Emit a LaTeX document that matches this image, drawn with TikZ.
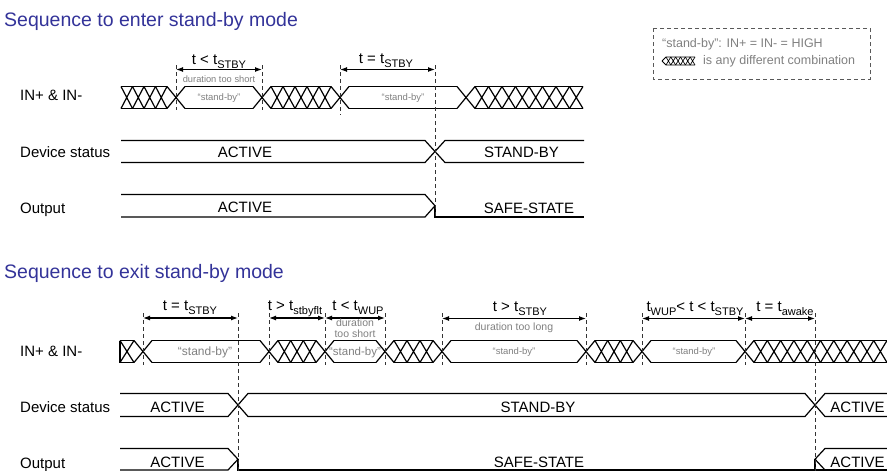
\documentclass[tikz,border=0pt]{standalone}
\usepackage{fontspec}
\setmainfont{Liberation Sans}
\usetikzlibrary{arrows,arrows.meta,positioning}
\definecolor{titleblue}{RGB}{51,51,153}
\definecolor{notegray}{RGB}{128,128,128}
\newcommand{\subtxt}[1]{\raisebox{-0.25em}{\fontsize{11}{11}\selectfont #1}}
% one bus row: top, bottom, list of a/b/wa/wb/hatched
\newcommand{\busrow}[3]{%
\foreach \a/\b/\wa/\wb/\k in {#3} {
\draw[sig] (\a+\wa,#1) -- (\b-\wb,#1) (\a+\wa,#2) -- (\b-\wb,#2);
\ifnum\k=1
\pgfmathtruncatemacro\nx{max(1,round((\b-\wb-\a-\wa)/13))}
\pgfmathsetmacro\px{(\b-\wb-\a-\wa)/\nx}
\foreach \i in {1,...,\nx} {
\draw[sig] (\a+\wa+\i*\px-\px,#1) -- (\a+\wa+\i*\px,#2) (\a+\wa+\i*\px-\px,#2) -- (\a+\wa+\i*\px,#1);
}
\fi
}}

\begin{document}
\begin{tikzpicture}[x=1pt,y=-1pt,>={Latex[length=7pt,width=5pt]},
  sig/.style={line width=1.2pt},
  guide/.style={line width=0.9pt,black!80,dash pattern=on 4pt off 3pt},
  durarrow/.style={<->,line width=1.2pt},
  title/.style={inner sep=0,anchor=base west,text=titleblue,font=\fontsize{19.5}{22}\selectfont},
  lbl/.style={inner sep=0,anchor=base,font=\fontsize{15}{18}\selectfont},
  rowname/.style={lbl,anchor=base west},
  quote/.style={inner sep=0,anchor=base,text=notegray,font=\fontsize{9.5}{11}\selectfont},
  note/.style={inner sep=0,anchor=base,text=notegray,font=\fontsize{10.5}{11.5}\selectfont}]
\useasboundingbox (0,0) rectangle (887,471);

% ---------- enter stand-by ----------
\node[title] (tenter) at (4,27) {Sequence to enter stand-by mode};
\node[rowname] (lin1) at (20,100) {IN+ \& IN-};
\node[rowname] (ldev1) at (20,157.5) {Device status};
\node[rowname] (lout1) at (20,213) {Output};

\busrow{86.5}{108.5}{121/176/0/9/1, 176/262/9/9/0, 262/340/9/9/1, 340/466/9/9/0, 466/583/9/0/1}
\foreach \t in {176,262,340,466}
\draw[sig] (\t-9,86.5) -- (\t+9,108.5) (\t-9,108.5) -- (\t+9,86.5);
\node[quote] (qa1) at (219,100.5) {“stand-by”};
\node[quote] (qa2) at (403,100.5) {“stand-by”};

\draw[sig] (121,140.5) -- (425,140.5) -- (445,162.5) -- (584,162.5);
\draw[sig] (121,162.5) -- (425,162.5) -- (445,140.5) -- (584,140.5);
\node[lbl] (sa1) at (245,157.5) {ACTIVE};
\node[lbl] (sa2) at (521.5,157.5) {STAND-BY};

\draw[sig] (121,194.5) -- (425,194.5) -- (435,205.75) -- (425,217) -- (121,217);
\draw[sig] (435,205.75) -- (435,217) -- (584,217);
\node[lbl] (oa1) at (245,212) {ACTIVE};
\node[lbl] (oa2) at (529,213) {SAFE-STATE};

\foreach \x/\yb in {176/110,262/110,340/115,435/218}
\draw[guide] (\x,65) -- (\x,\yb);
\draw[durarrow] (176,69.5) -- (262,69.5);
\draw[durarrow] (340,69.5) -- (435,69.5);
\node[lbl] (da1) at (219,64.5) {t < t\subtxt{STBY}};
\node[lbl] (da2) at (386,63.5) {t = t\subtxt{STBY}};
\node[quote,font=\fontsize{9.3}{11}\selectfont] (na1) at (219,82.5) {duration too short};

% legend
\draw[guide,black!65] (653,28) rectangle (870,79);
\node[quote,anchor=base west,font=\fontsize{12.5}{14}\selectfont] (leg1) at (662,47.5) {“stand-by”: IN+ = IN- = HIGH};
\draw[line width=0.8pt] (662,61) -- (666,57) -- (695,57) (662,61) -- (666,65) -- (695,65);
\foreach \i in {0,...,5}
\draw[line width=0.7pt] (666+\i*4.83,57) -- (666+\i*4.83+4.83,65) (666+\i*4.83,65) -- (666+\i*4.83+4.83,57);
\coordinate (legsym) at (695,61);
\node[quote,anchor=west,font=\fontsize{12.5}{14}\selectfont,right=8pt of legsym] (leg2) {is any different combination};

% ---------- exit stand-by ----------
\node[title] (texit) at (4,278) {Sequence to exit stand-by mode};
\node[rowname] (lin2) at (20,356) {IN+ \& IN-};
\node[rowname] (ldev2) at (20,412) {Device status};
\node[rowname] (lout2) at (20,468) {Output};

\busrow{340.5}{362.5}{120/143/0/9/1, 143/269/9/9/0, 269/325/9/9/1, 325/385/9/9/0, 385/442/9/9/1, 442/586/9/9/0, 586/642/9/9/1, 642/745/9/9/0, 745/887/9/0/1}
\draw[sig] (120,340.5) -- (120,362.5);
\foreach \t in {143,269,325,385,442,586,642,745}
\draw[sig] (\t-9,340.5) -- (\t+9,362.5) (\t-9,362.5) -- (\t+9,340.5);
\node[quote,font=\fontsize{12}{13}\selectfont] (qb1) at (205,355) {“stand-by”};
\node[quote,font=\fontsize{11.5}{13}\selectfont] (qb2) at (355,355) {“stand-by”};
\node[quote] (qb3) at (514,354.5) {“stand-by”};
\node[quote] (qb4) at (694,354.5) {“stand-by”};

\draw[sig] (120,393.5) -- (228,393.5) -- (248,416.5) -- (805,416.5) -- (825,393.5) -- (887,393.5);
\draw[sig] (120,416.5) -- (228,416.5) -- (248,393.5) -- (805,393.5) -- (825,416.5) -- (887,416.5);
\node[lbl] (sb1) at (177.5,412) {ACTIVE};
\node[lbl] (sb2) at (538,412) {STAND-BY};
\node[lbl] (sb3) at (857.5,412) {ACTIVE};

\draw[sig] (120,448.5) -- (228,448.5) -- (238,459.25) -- (228,470) -- (120,470);
\draw[sig] (238,459.25) -- (238,470) -- (887,470);
\draw[sig] (887,448.5) -- (825,448.5) -- (815,459.25) -- (825,470);
\draw[sig] (815,459.25) -- (815,470);
\node[lbl] (ob1) at (177.5,467) {ACTIVE};
\node[lbl] (ob2) at (539,467) {SAFE-STATE};
\node[lbl] (ob3) at (857.5,467) {ACTIVE};

\foreach \x/\yb in {143/365,238/471,269/365,325/365,385/365,442/365,586/365,642/365,745/365,815/471}
\draw[guide] (\x,313) -- (\x,\yb);
\draw[durarrow] (143,318) -- (238,318);
\draw[durarrow] (269,318) -- (325,318);
\draw[durarrow] (325,318) -- (385,318);
\draw[durarrow] (442,318.5) -- (586,318.5);
\draw[durarrow] (642,318.5) -- (745,318.5);
\draw[durarrow] (745,318.5) -- (815,318.5);
\node[lbl] (db1) at (190,310.5) {t = t\subtxt{STBY}};
\node[lbl] (db2) at (295,310.5) {t > t\subtxt{stbyflt}};
\node[lbl] (db3) at (358,310.5) {t < t\subtxt{WUP}};
\node[lbl] (db4) at (520,311.5) {t > t\subtxt{STBY}};
\node[lbl] (db5) at (695,311.5) {t\subtxt{WUP}< t < t\subtxt{STBY}};
\node[lbl] (db6) at (785,311.5) {t = t\subtxt{awake}};
\node[note] (nb1) at (355,326) {duration};
\node[note] (nb2) at (355,337) {too short};
\node[note] (nb3) at (514,330) {duration too long};
\end{tikzpicture}
\end{document}
